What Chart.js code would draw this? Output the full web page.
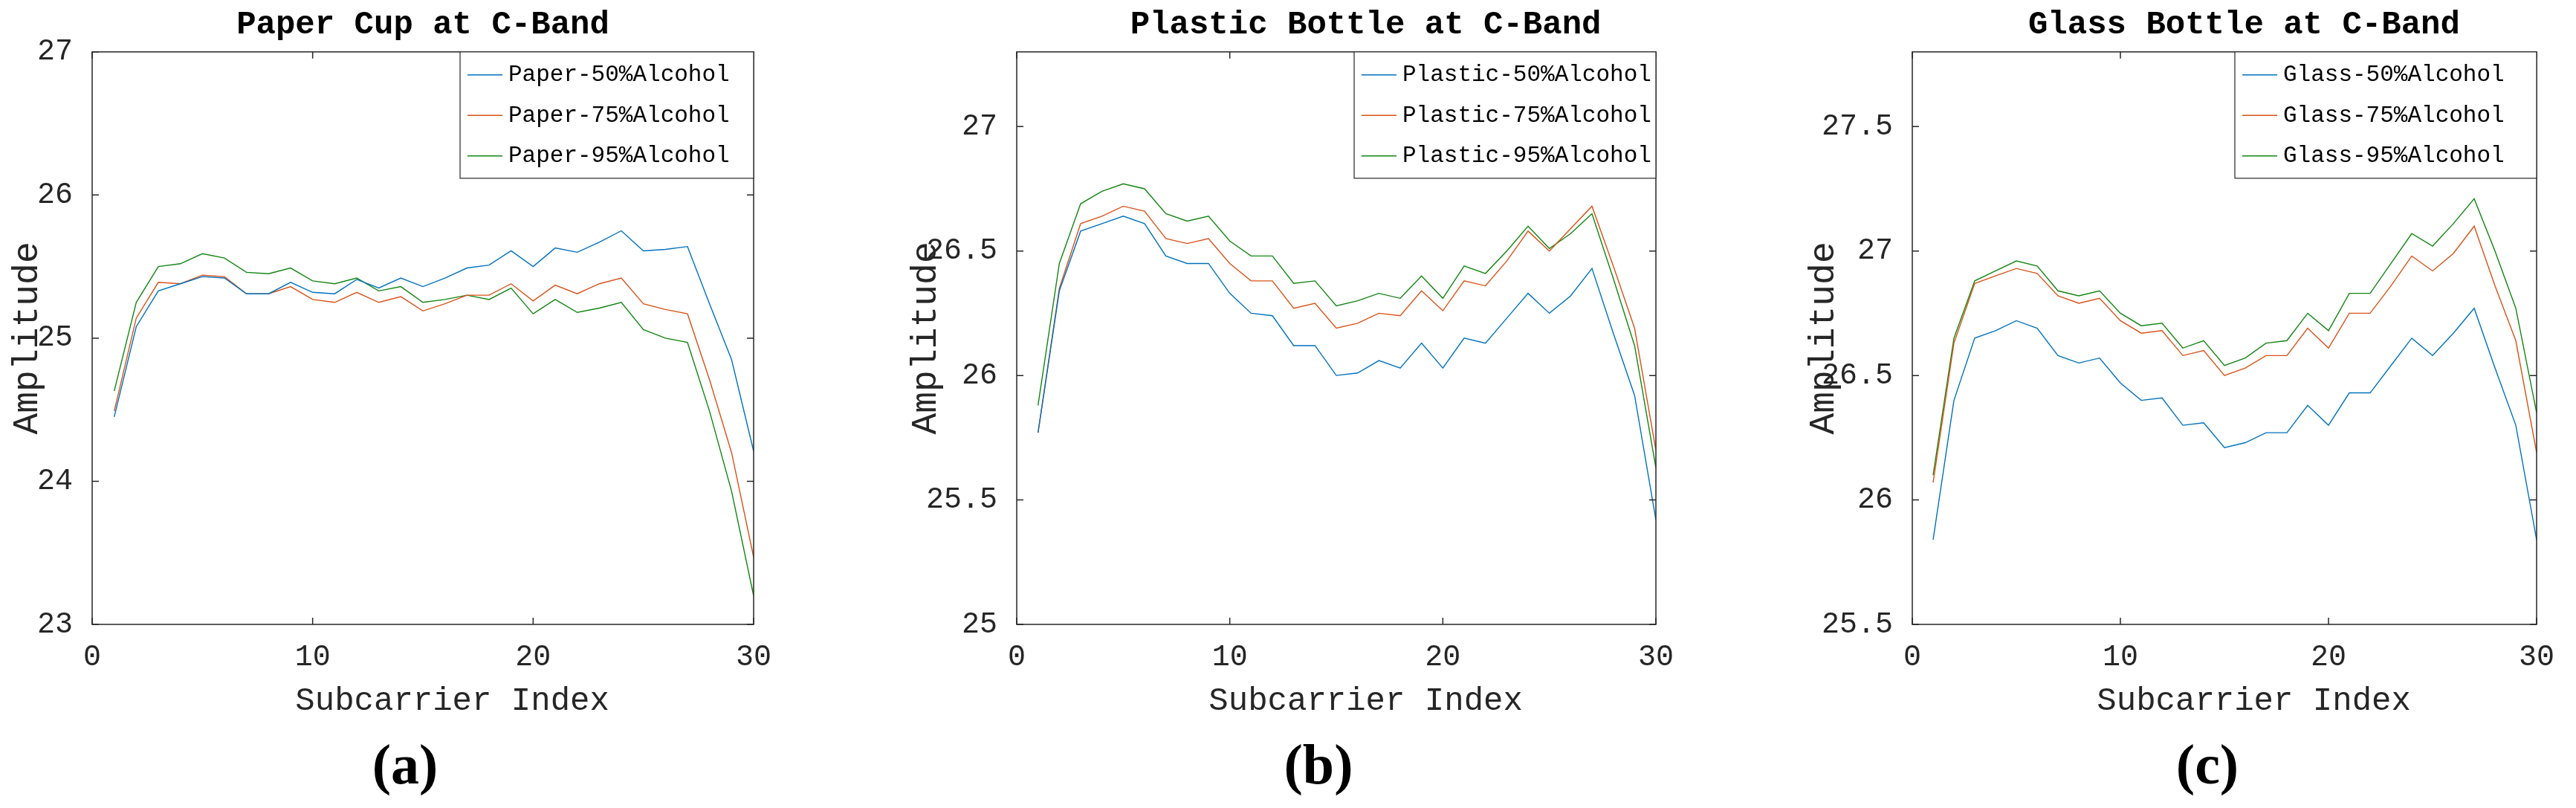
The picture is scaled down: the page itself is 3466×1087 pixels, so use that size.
<!DOCTYPE html>
<html>
<head>
<meta charset="utf-8">
<title>C-Band amplitude</title>
<script src="https://cdn.jsdelivr.net/npm/chart.js@4.4.1/dist/chart.umd.min.js"></script>
<style>
  html, body { margin: 0; padding: 0; background: #fff; }
  body { width: 3466px; height: 1087px; position: relative; overflow: hidden; }
  canvas { position: absolute; top: 0; }
  .sub { position: absolute; top: 985px; height: 80px; line-height: 80px;
         font: bold 76px 'Liberation Serif', 'DejaVu Serif', serif; color: #000;
         transform: translateX(-50%); white-space: nowrap; }
</style>
</head>
<body>
<canvas id="chart-a" width="1160" height="1087" style="left:0px"></canvas>
<canvas id="chart-b" width="1160" height="1087" style="left:1160px"></canvas>
<canvas id="chart-c" width="1146" height="1087" style="left:2320px"></canvas>
<div class="sub" style="left:545px">(a)</div>
<div class="sub" style="left:1774px">(b)</div>
<div class="sub" style="left:2970px">(c)</div>
<script>
// Subcarrier amplitude, C-Band, three containers x three alcohol strengths
const subcarriers = [1, 2, 3, 4, 5, 6, 7, 8, 9, 10, 11, 12, 13, 14, 15,
  16, 17, 18, 19, 20, 21, 22, 23, 24, 25, 26, 27, 28, 29, 30];

const paper50 = [24.45, 25.08, 25.33, 25.38, 25.43, 25.42, 25.31, 25.31, 25.39, 25.32,
  25.31, 25.41, 25.35, 25.42, 25.36, 25.42, 25.49, 25.51, 25.61, 25.50,
  25.63, 25.60, 25.67, 25.75, 25.61, 25.62, 25.64, 25.24, 24.85, 24.21];
const paper75 = [24.49, 25.14, 25.39, 25.38, 25.44, 25.43, 25.31, 25.31, 25.36, 25.27,
  25.25, 25.32, 25.25, 25.29, 25.19, 25.24, 25.30, 25.30, 25.38, 25.26,
  25.37, 25.31, 25.38, 25.42, 25.24, 25.20, 25.17, 24.71, 24.20, 23.47];
const paper95 = [24.63, 25.25, 25.50, 25.52, 25.59, 25.56, 25.46, 25.45, 25.49, 25.40,
  25.38, 25.42, 25.33, 25.36, 25.25, 25.27, 25.30, 25.27, 25.35, 25.17,
  25.27, 25.18, 25.21, 25.25, 25.06, 25.00, 24.97, 24.49, 23.93, 23.20];

const plastic50 = [25.77, 26.34, 26.58, 26.61, 26.64, 26.61, 26.48, 26.45, 26.45, 26.33,
  26.25, 26.24, 26.12, 26.12, 26.00, 26.01, 26.06, 26.03, 26.13, 26.03,
  26.15, 26.13, 26.23, 26.33, 26.25, 26.32, 26.43, 26.17, 25.92, 25.42];
const plastic75 = [25.77, 26.35, 26.61, 26.64, 26.68, 26.66, 26.55, 26.53, 26.55, 26.45,
  26.38, 26.38, 26.27, 26.29, 26.19, 26.21, 26.25, 26.24, 26.34, 26.26,
  26.38, 26.36, 26.46, 26.58, 26.50, 26.59, 26.68, 26.44, 26.19, 25.70];
const plastic95 = [25.88, 26.45, 26.69, 26.74, 26.77, 26.75, 26.65, 26.62, 26.64, 26.54,
  26.48, 26.48, 26.37, 26.38, 26.28, 26.30, 26.33, 26.31, 26.40, 26.31,
  26.44, 26.41, 26.50, 26.60, 26.51, 26.57, 26.65, 26.39, 26.12, 25.63];

const glass50 = [25.84, 26.40, 26.65, 26.68, 26.72, 26.69, 26.58, 26.55, 26.57, 26.47,
  26.40, 26.41, 26.30, 26.31, 26.21, 26.23, 26.27, 26.27, 26.38, 26.30,
  26.43, 26.43, 26.54, 26.65, 26.58, 26.67, 26.77, 26.53, 26.30, 25.84];
const glass75 = [26.07, 26.63, 26.87, 26.90, 26.93, 26.91, 26.82, 26.79, 26.81, 26.72,
  26.67, 26.68, 26.58, 26.60, 26.50, 26.53, 26.58, 26.58, 26.69, 26.61,
  26.75, 26.75, 26.86, 26.98, 26.92, 26.99, 27.10, 26.86, 26.64, 26.19];
const glass95 = [26.10, 26.65, 26.88, 26.92, 26.96, 26.94, 26.84, 26.82, 26.84, 26.75,
  26.70, 26.71, 26.61, 26.64, 26.54, 26.57, 26.63, 26.64, 26.75, 26.68,
  26.83, 26.83, 26.95, 27.07, 27.02, 27.11, 27.21, 27.00, 26.77, 26.35];

const xTicks = [0, 10, 20, 30];
const yTicksPaper = [23, 24, 25, 26, 27];
const yTicksPlastic = [25, 25.5, 26, 26.5, 27];
const yTicksGlass = [25.5, 26, 26.5, 27, 27.5];

const seriesColors = ['#0072BD', '#D95319', '#138613'];
const axisColor = '#262626';

Chart.defaults.font.family = "'Liberation Mono', 'DejaVu Sans Mono', monospace";
Chart.defaults.color = axisColor;

// MATLAB-like box: frame, inward ticks on all four sides, legend inside top-right
const boxPlugin = {
  id: 'matlabBox',
  afterDatasetsDraw(chart, args, opts) {
    const { ctx, chartArea: a, scales: { x, y } } = chart;
    ctx.save();
    ctx.strokeStyle = axisColor;
    ctx.lineWidth = 1.5;
    ctx.strokeRect(a.left, a.top, a.right - a.left, a.bottom - a.top);
    const len = 9;
    ctx.beginPath();
    x.ticks.forEach(t => {
      const px = x.getPixelForValue(t.value);
      ctx.moveTo(px, a.bottom); ctx.lineTo(px, a.bottom - len);
      ctx.moveTo(px, a.top); ctx.lineTo(px, a.top + len);
    });
    y.ticks.forEach(t => {
      const py = y.getPixelForValue(t.value);
      ctx.moveTo(a.left, py); ctx.lineTo(a.left + len, py);
      ctx.moveTo(a.right, py); ctx.lineTo(a.right - len, py);
    });
    ctx.stroke();

    // legend
    const w = opts.width, h = 170;
    const lx = a.right - w, ly = a.top;
    ctx.fillStyle = '#fff';
    ctx.fillRect(lx, ly, w, h);
    ctx.lineWidth = 1.2;
    ctx.strokeRect(lx, ly, w, h);
    ctx.font = "31px 'Liberation Mono', monospace";
    ctx.textBaseline = 'middle';
    ctx.textAlign = 'left';
    chart.data.datasets.forEach((ds, i) => {
      const cy = ly + 31 + 54.5 * i;
      ctx.strokeStyle = ds.borderColor;
      ctx.lineWidth = 1.4;
      ctx.beginPath();
      ctx.moveTo(lx + 10, cy); ctx.lineTo(lx + 57, cy);
      ctx.stroke();
      ctx.fillStyle = '#000';
      ctx.fillText(ds.label, lx + 65, cy);
    });
    ctx.restore();
  }
};

function makePanel(id, p) {
  const datasets = p.series.map((vals, i) => ({
    label: p.labels[i],
    data: subcarriers.map((s, k) => ({ x: s, y: vals[k] })),
    borderColor: seriesColors[i],
    backgroundColor: seriesColors[i],
    borderWidth: 1.4,
    pointRadius: 0,
    tension: 0,
    fill: false
  }));
  return new Chart(document.getElementById(id), {
    type: 'line',
    data: { datasets },
    plugins: [boxPlugin],
    options: {
      responsive: false,
      animation: false,
      events: [],
      layout: { padding: { left: 0, right: p.padRight, top: 0, bottom: 117 } },
      plugins: {
        legend: { display: false },
        tooltip: { enabled: false },
        title: {
          display: true, text: p.title, fullSize: false, color: '#000',
          font: { size: 44, weight: 'bold' }, padding: { top: 8, bottom: 9 }
        },
        matlabBox: { width: p.legendWidth }
      },
      scales: {
        x: {
          type: 'linear', min: 0, max: 30,
          afterBuildTicks: s => { s.ticks = xTicks.map(v => ({ value: v })); },
          afterFit: s => { s.height = 130; },
          grid: { display: false }, border: { display: false },
          ticks: { font: { size: 40 }, padding: 12, maxRotation: 0, autoSkip: false },
          title: { display: true, text: '   Subcarrier Index', font: { size: 44 }, padding: 0 }
        },
        y: {
          type: 'linear', min: p.yMin, max: p.yMax,
          afterBuildTicks: s => { s.ticks = p.yTicks.map(v => ({ value: v })); },
          afterFit: s => { s.width = p.yWidth; },
          grid: { display: false }, border: { display: false },
          ticks: { font: { size: 40 }, padding: 18, autoSkip: false, callback: v => String(v) },
          title: { display: true, text: 'Amplitude', font: { size: 48 }, padding: { top: p.yTitlePad, bottom: 0 } }
        }
      }
    }
  });
}

makePanel('chart-a', {
  title: 'Paper Cup at C-Band',
  labels: ['Paper-50%Alcohol', 'Paper-75%Alcohol', 'Paper-95%Alcohol'],
  series: [paper50, paper75, paper95],
  yMin: 23, yMax: 27, yTicks: yTicksPaper,
  yWidth: 124, padRight: 146, yTitlePad: 8, legendWidth: 395
});
makePanel('chart-b', {
  title: '   Plastic Bottle at C-Band',
  labels: ['Plastic-50%Alcohol', 'Plastic-75%Alcohol', 'Plastic-95%Alcohol'],
  series: [plastic50, plastic75, plastic95],
  yMin: 25, yMax: 27.3, yTicks: yTicksPlastic,
  yWidth: 208, padRight: 92, yTitlePad: 57, legendWidth: 406
});
makePanel('chart-c', {
  title: '  Glass Bottle at C-Band',
  labels: ['Glass-50%Alcohol', 'Glass-75%Alcohol', 'Glass-95%Alcohol'],
  series: [glass50, glass75, glass95],
  yMin: 25.5, yMax: 27.8, yTicks: yTicksGlass,
  yWidth: 253, padRight: 53, yTitlePad: 105, legendWidth: 406
});
</script>
</body>
</html>
